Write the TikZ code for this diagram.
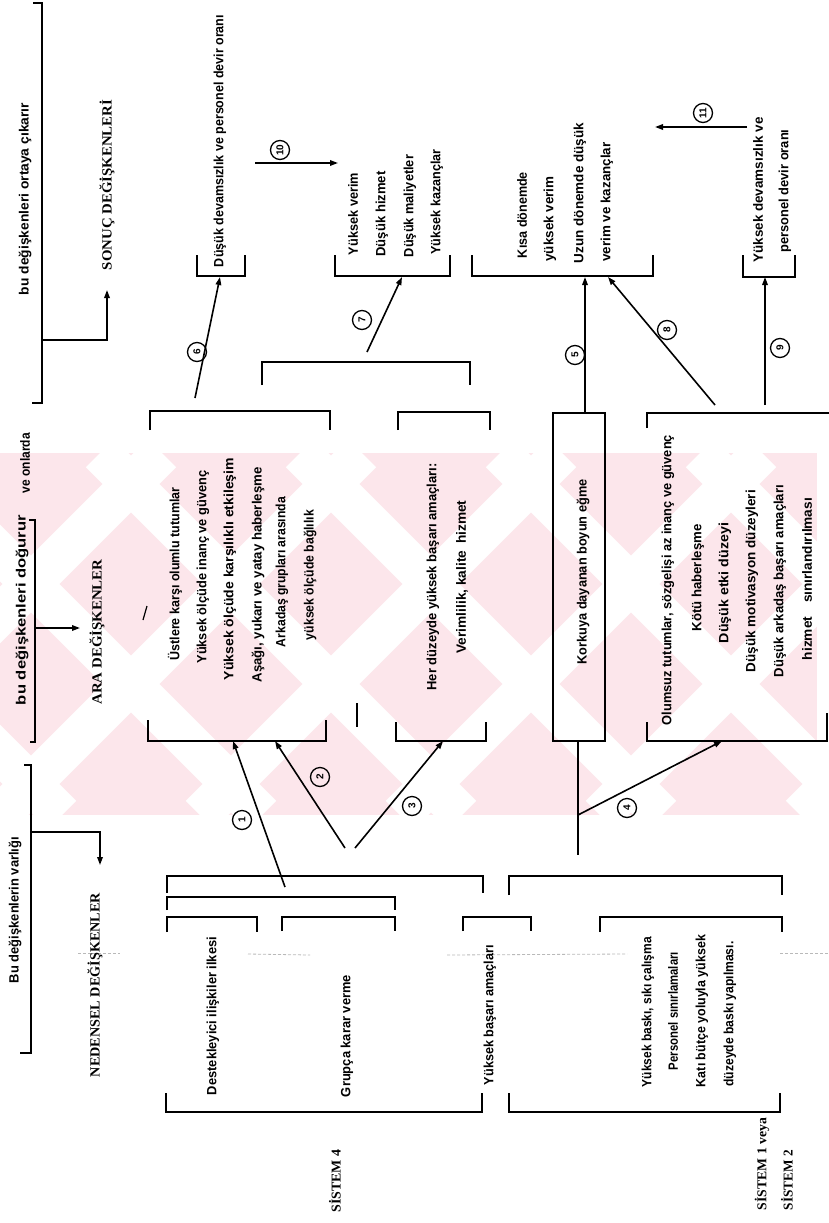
\documentclass[tikz,border=0pt]{standalone}
\usepackage{graphicx}
\usepackage{fontspec}
\setmainfont{Liberation Serif}
\newfontfamily\sansf{Liberation Sans}
\usetikzlibrary{arrows.meta}
\definecolor{wm}{RGB}{252,230,235}
\newcommand{\txf}{\sansf\bfseries\fontsize{13.4}{15}\selectfont}
\newcommand{\hdf}{\rmfamily\bfseries\fontsize{14}{16}\selectfont}
\newcommand{\sysf}{\rmfamily\bfseries\fontsize{13.5}{15}\selectfont}
\newcommand{\fw}[2]{\resizebox{#1pt}{\height}{#2}}
\newcommand{\tbr}[4]{\draw[ln] (#1,#3+#4) -- (#1,#3) -- (#2,#3) -- (#2,#3+#4);}
\newcommand{\bbr}[4]{\draw[ln] (#1,#3-#4) -- (#1,#3) -- (#2,#3) -- (#2,#3-#4);}
\tikzset{
  ln/.style={line width=1.6pt},
  arr/.style={line width=1.6pt,-{Triangle[length=8pt,width=5.5pt]}},
  tx/.style={rotate=90,inner sep=0pt,font=\txf},
  hd/.style={rotate=90,inner sep=0pt,font=\hdf},
  sys/.style={rotate=90,inner sep=0pt,font=\sysf},
  num/.style={circle,draw,line width=1.3pt,minimum size=19pt,inner sep=0pt,rotate=90,
    font=\sansf\bfseries\fontsize{10}{10}\selectfont},
}
\begin{document}
\begin{tikzpicture}[x=1pt,y=-1pt]
\useasboundingbox (0,0) rectangle (829,1223);
\fill[white] (0,0) rectangle (829,1223);
% watermark
\begin{scope}
  \clip (0,453) rectangle (817,815);
  \fill[wm] (0,453) rectangle (817,815);
  \foreach \k in {-500,-300,...,900} {
    \draw[white,line width=40pt] (\k,453) -- (\k+362,815);
    \draw[white,line width=40pt] (\k+100,815) -- (\k+462,453);
  }
\end{scope}
% scan dotted line
\draw[gray!55,line width=0.8pt,dash pattern=on 3pt off 2pt] (78,953) -- (120,953);
\draw[gray!55,line width=0.8pt,dash pattern=on 3pt off 2pt] (248,954) -- (310,955);
\draw[gray!55,line width=0.8pt,dash pattern=on 3pt off 2pt] (447,955) -- (627,954);
\draw[gray!55,line width=0.8pt,dash pattern=on 3pt off 2pt] (780,953) -- (829,953);
\draw[line width=1.2pt] (357,703) -- (357,727);
\draw[line width=1.2pt] (143,620) -- (147,606);

% ---- left side brackets ----
\draw[ln] (33,3) -- (42,3) -- (42,403) -- (32,403);
\coordinate (b1s) at (42,340); \coordinate (b1t) at (107,290);
\draw[arr] (b1s) -| (b1t);
\draw[ln] (29,520) -- (35,520) -- (35,742) -- (30,742);
\coordinate (b2s) at (35,628); \coordinate (b2t) at (80,628);
\draw[arr] (b2s) -- (b2t);
\draw[ln] (24,765) -- (31,765) -- (31,1053) -- (20,1053);
\coordinate (b3s) at (31,832); \coordinate (b3t) at (100,865);
\draw[arr] (b3s) -| (b3t);

\node[tx] (l1) at (25,199) {\fw{192}{bu değişkenleri ortaya çıkarır}};
\node[tx] (l2) at (25,463) {\fw{60}{ve onlarda}};
\node[tx] (l3) at (22,610) {\fw{190}{bu değişkenleri doğurur}};
\node[tx] (l4) at (15,910) {\fw{146}{Bu değişkenlerin varlığı}};

\node[hd] (h1) at (107,185) {\fw{170}{SONUÇ DEĞİŞKENLERİ}};
\node[hd] (h2) at (97,632) {\fw{145}{ARA DEĞİŞKENLER}};
\node[hd] (h3) at (95,985) {\fw{184}{NEDENSEL DEĞİŞKENLER}};

% ---- intermediate boxes ----
\tbr{150}{330}{411}{19}
\bbr{148}{326}{741}{21}
\node[tx] (u1) at (175,574) {\fw{173}{Üstlere karşı olumlu tutumlar}};
\node[tx] (u2) at (203,567) {\fw{193}{Yüksek ölçüde inanç ve güvenç}};
\node[tx] (u3) at (230,569) {\fw{222}{Yüksek ölçüde karşılıklı etkileşim}};
\node[tx] (u4) at (258,575) {\fw{215}{Aşağı, yukarı ve yatay haberleşme}};
\node[tx] (u5) at (282,572) {\fw{150}{Arkadaş grupları arasında}};
\node[tx] (u6) at (310,575) {\fw{130}{yüksek ölçüde bağlılık}};

\tbr{398}{490}{412}{18}
\bbr{396}{486}{741}{19}
\node[tx] (hd1) at (433,577) {\fw{227}{Her düzeyde yüksek başarı amaçları:}};
\node[tx] (hd2) at (462,577) {\fw{153}{Verimlilik, kalite\enspace hizmet}};

\tbr{262}{470}{362}{23}

\node[draw,line width=1.6pt,rotate=90,minimum width=328pt,minimum height=52pt,inner sep=0pt] (kor) at (579,577) {};
\node[tx] (kort) at (583,572) {\fw{185}{Korkuya dayanan boyun eğme}};

\draw[ln] (647,428) -- (647,413) -- (829,413);
\draw[ln] (647,722) -- (647,741) -- (827,741) -- (827,713);
\node[tx] (o1) at (668,580) {\fw{290}{Olumsuz tutumlar, sözgelişi az inanç ve güvenç}};
\node[tx] (o2) at (698,578) {\fw{107}{Kötü haberleşme}};
\node[tx] (o3) at (725,583) {\fw{120}{Düşük etki düzeyi}};
\node[tx] (o4) at (752,581) {\fw{182}{Düşük motivasyon düzeyleri}};
\node[tx] (o5) at (780,581) {\fw{192}{Düşük arkadaş başarı amaçları}};
\node[tx] (o6) at (807,579) {\fw{162}{hizmet\quad sınırlandırılması}};

% ---- outcome brackets ----
\bbr{197}{245}{276}{21}
\bbr{335}{450}{276}{21}
\bbr{472}{653}{276}{21}
\bbr{743}{795}{277}{22}
\node[tx] (r1) at (220,141) {\fw{252}{Düşük devamsızlık ve personel devir oranı}};
\node[tx] (r2) at (353,214) {\fw{82}{Yüksek verim}};
\node[tx] (r3) at (382,214) {\fw{85}{Düşük hizmet}};
\node[tx] (r4) at (410,206) {\fw{102}{Düşük maliyetler}};
\node[tx] (r5) at (437,202) {\fw{105}{Yüksek kazançlar}};
\node[tx] (r6) at (522,215) {\fw{86}{Kısa dönemde}};
\node[tx] (r7) at (550,219) {\fw{85}{yüksek verim}};
\node[tx] (r8) at (580,193) {\fw{140}{Uzun dönemde düşük}};
\node[tx] (r9) at (607,202) {\fw{119}{verim ve kazançlar}};
\node[tx] (r10) at (758,190) {\fw{145}{Yüksek devamsızlık ve}};
\node[tx] (r11) at (785,191) {\fw{123}{personel devir oranı}};

% ---- causal brackets ----
\tbr{167}{483}{876}{17}
\tbr{167}{395}{897}{13}
\tbr{167}{257}{917}{15}
\tbr{282}{395}{917}{14}
\tbr{463}{531}{917}{14}
\tbr{509}{782}{876}{19}
\tbr{600}{782}{917}{15}
\bbr{166}{482}{1112}{19}
\bbr{509}{780}{1112}{19}
\node[tx] (s1) at (213,1016) {\fw{158}{Destekleyici ilişkiler ilkesi}};
\node[tx] (s2) at (347,1036) {\fw{122}{Grupça karar verme}};
\node[tx] (s3) at (490,1015) {\fw{140}{Yüksek başarı amaçları}};
\node[tx] (s4) at (648,1012) {\fw{150}{Yüksek baskı, sıkı çalışma}};
\node[tx] (s5) at (673,1011) {\fw{118}{Personel sınırlamaları}};
\node[tx] (s6) at (702,1011) {\fw{152}{Katı bütçe yoluyla yüksek}};
\node[tx] (s7) at (730,1014) {\fw{145}{düzeyde baskı yapılması.}};
\node[sys] (y4) at (335,1181) {\fw{63}{SİSTEM 4}};
\node[sys] (y1) at (762,1164) {\fw{92}{SİSTEM 1 veya}};
\node[sys] (y2) at (787,1180) {\fw{60}{SİSTEM 2}};

% ---- connectors ----
\coordinate (a1s) at (285,887); \coordinate (a1e) at (233,741);
\coordinate (a2s) at (345,848); \coordinate (a2e) at (275,741);
\coordinate (a3s) at (355,848); \coordinate (a3e) at (443,741);
\coordinate (k1) at (578,741); \coordinate (k2) at (578,855);
\coordinate (a4s) at (578,815); \coordinate (a4e) at (722,741);
\coordinate (a5s) at (585,413); \coordinate (a5e) at (585,277);
\coordinate (a6s) at (195,398); \coordinate (a6e) at (220,277);
\coordinate (a7s) at (367,352); \coordinate (a7e) at (402,277);
\coordinate (a8s) at (715,405); \coordinate (a8e) at (608,277);
\coordinate (a9s) at (765,405); \coordinate (a9e) at (765,277);
\coordinate (a10s) at (255,163); \coordinate (a10e) at (338,163);
\coordinate (a11s) at (747,127); \coordinate (a11e) at (655,127);
\draw[arr] (a1s) -- (a1e);
\draw[arr] (a2s) -- (a2e);
\draw[arr] (a3s) -- (a3e);
\draw[ln] (k1) -- (k2);
\draw[arr] (a4s) -- (a4e);
\draw[arr] (a5s) -- (a5e);
\draw[arr] (a6s) -- (a6e);
\draw[arr] (a7s) -- (a7e);
\draw[arr] (a8s) -- (a8e);
\draw[arr] (a9s) -- (a9e);
\draw[arr] (a10s) -- (a10e);
\draw[arr] (a11s) -- (a11e);

\node[num] (c1) at (242,820) {1};
\node[num] (c2) at (320,777) {2};
\node[num] (c3) at (412,806) {3};
\node[num] (c4) at (627,808) {4};
\node[num] (c5) at (575,355) {5};
\node[num] (c6) at (197,352) {6};
\node[num] (c7) at (362,320) {7};
\node[num] (c8) at (667,330) {8};
\node[num] (c9) at (780,348) {9};
\node[num] (c10) at (280,150) {10};
\node[num] (c11) at (703,113) {11};
\end{tikzpicture}
\end{document}
